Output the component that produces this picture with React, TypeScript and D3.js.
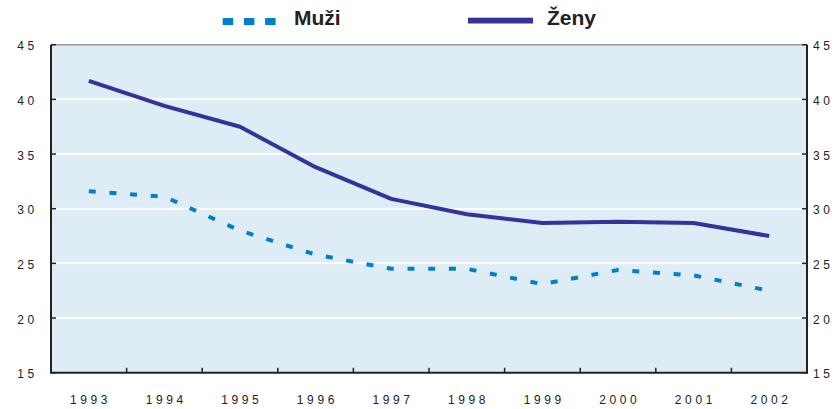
import React from "react";
import * as d3 from "d3";

const years = ["1993", "1994", "1995", "1996", "1997", "1998", "1999", "2000", "2001", "2002"];
const muzi = [31.6, 31.1, 28.0, 25.8, 24.5, 24.5, 23.1, 24.4, 23.9, 22.5];
const zeny = [41.7, 39.4, 37.5, 33.8, 30.9, 29.5, 28.7, 28.8, 28.7, 27.5];
const yTicks = [15, 20, 25, 30, 35, 40, 45];

const W = 840;
const H = 409;
const margin = { left: 51, right: 33, top: 44.7, bottom: 36.3 };
const font = "'Liberation Sans', Arial, Helvetica, sans-serif";
const ls = 3.6;

const App = () => {
  const x = d3
    .scaleBand()
    .domain(years)
    .range([margin.left, W - margin.right]);
  const y = d3
    .scaleLinear()
    .domain([15, 45])
    .range([H - margin.bottom, margin.top]);
  const cx = (d: string) => (x(d) as number) + x.bandwidth() / 2;

  const line = d3
    .line<number>()
    .x((d, i) => cx(years[i]))
    .y(d => y(d));

  const x0 = margin.left;
  const x1 = W - margin.right;
  const yTop = y(45);
  const yBot = y(15);

  return (
    <svg width={W} height={H} style={{ position: "absolute", left: 0, top: 0 }}>
      {/* legend */}
      <g>
        {[0, 1, 2].map(i => (
          <rect key={i} x={222.7 + i * 21.2} y={18} width={10.5} height={7} fill="#0080c8" />
        ))}
        <text x={294} y={25} fontFamily={font} fontWeight="bold" fontSize={21} fill="#222">
          Muži
        </text>
        <rect x={468} y={17.7} width={65} height={5.8} fill="#333399" />
        <text x={547} y={25} fontFamily={font} fontWeight="bold" fontSize={21} fill="#222">
          Ženy
        </text>
      </g>

      {/* plot background */}
      <rect x={x0} y={yTop} width={x1 - x0} height={yBot - yTop} fill="#deedf5" />

      {/* gridlines */}
      {yTicks.slice(1, -1).map(t => (
        <line key={t} x1={x0} x2={x1} y1={y(t)} y2={y(t)} stroke="#fff" strokeWidth={2} />
      ))}

      {/* frame */}
      <line x1={x0} x2={x1} y1={yTop} y2={yTop} stroke="#999" strokeWidth={1.5} />
      <line x1={x0} x2={x0} y1={yTop} y2={yBot} stroke="#222" strokeWidth={2} />
      <line x1={x1} x2={x1} y1={yTop} y2={yBot} stroke="#222" strokeWidth={2} />
      <line x1={x0 - 1} x2={x1 + 1} y1={yBot} y2={yBot} stroke="#222" strokeWidth={2} />

      {/* y ticks (inside) */}
      {yTicks.map(t => (
        <g key={t}>
          <line x1={x0} x2={x0 + 5} y1={y(t)} y2={y(t)} stroke="#222" strokeWidth={1.5} />
          <line x1={x1 - 5} x2={x1} y1={y(t)} y2={y(t)} stroke="#222" strokeWidth={1.5} />
          <text x={34.3 + ls} y={y(t) + 5.5} textAnchor="end" fontFamily={font} fontSize={12} letterSpacing={ls} fill="#222">
            {t}
          </text>
          <text x={813} y={y(t) + 5.5} textAnchor="start" fontFamily={font} fontSize={12} letterSpacing={ls} fill="#222">
            {t}
          </text>
        </g>
      ))}

      {/* x ticks between categories */}
      {years.slice(1).map(yr => (
        <line key={yr} x1={x(yr)} x2={x(yr)} y1={yBot} y2={yBot - 5} stroke="#222" strokeWidth={1.5} />
      ))}
      {years.map(yr => (
        <text key={yr} x={cx(yr) + ls / 2} y={404} textAnchor="middle" fontFamily={font} fontSize={12} letterSpacing={ls} fill="#222">
          {yr}
        </text>
      ))}

      {/* series */}
      <path d={line(muzi) as string} fill="none" stroke="#0080c8" strokeWidth={4} strokeDasharray="7,13.7" />
      <path d={line(zeny) as string} fill="none" stroke="#333399" strokeWidth={4} strokeLinejoin="round" />
    </svg>
  );
};

export default App;
